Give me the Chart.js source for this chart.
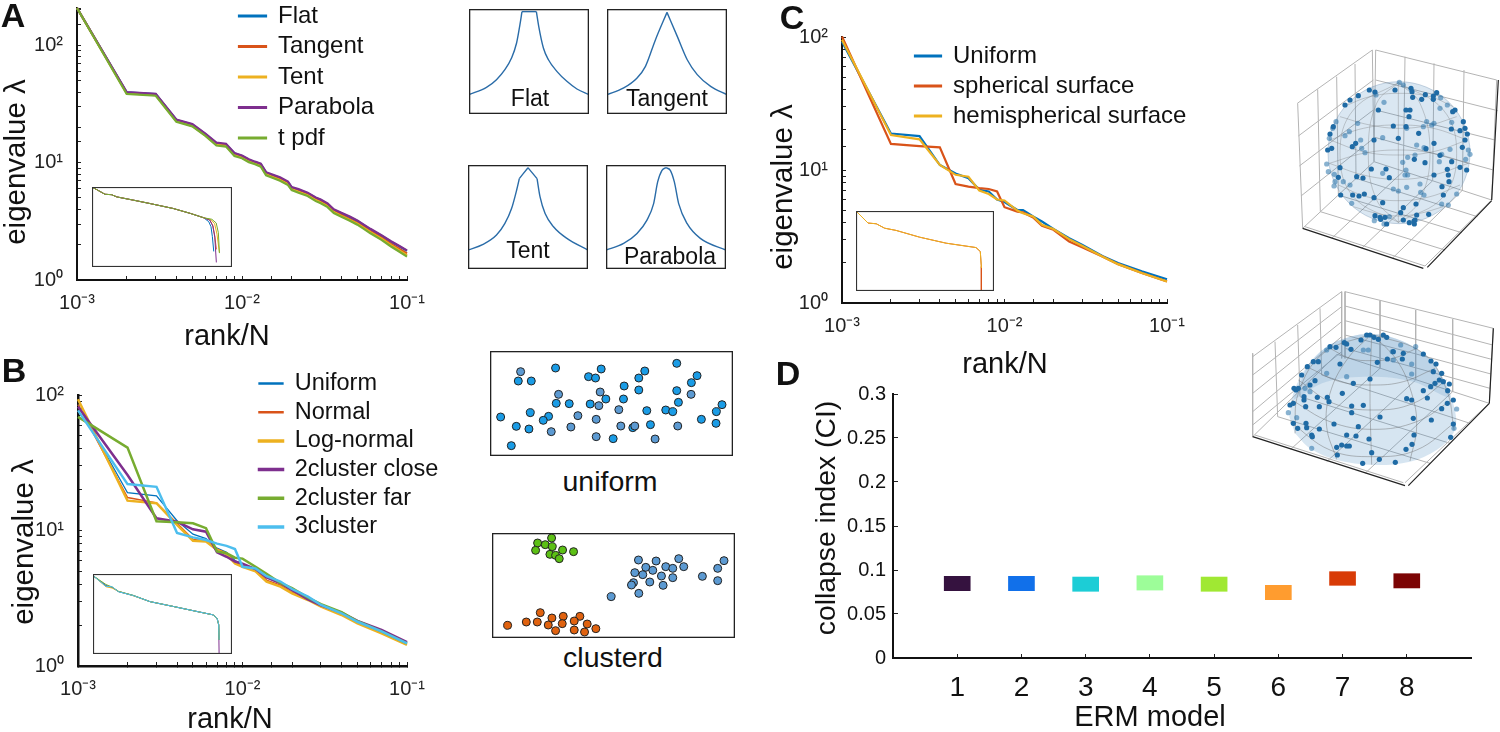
<!DOCTYPE html>
<html><head><meta charset="utf-8">
<style>
html,body{margin:0;padding:0;background:#fff;width:1500px;height:732px;overflow:hidden}
canvas{position:absolute}
.t{position:absolute;font-family:"Liberation Sans",Arial,sans-serif;color:#111;white-space:nowrap;transform:translate(-50%,-50%);line-height:1}
</style>
<script src="https://cdn.jsdelivr.net/npm/chart.js@4/dist/chart.umd.min.js"></script>
</head><body>
<script>
// ---------- Panel A ----------
const ranksA=[1,2,3,4,5,6,7,8,9,10,11,12,13,14,15,17,19,20,22,25,28,30,33,36,40,45,50,55,60,70,80,90,100];
const flatA=[208,39.8,38.4,23.1,21.1,17.5,14.6,14.3,12.0,11.4,10.6,10.1,9.7,8.2,7.9,7.4,6.8,6.15,5.88,5.48,5.0,4.8,4.44,3.95,3.7,3.42,3.18,2.92,2.7,2.38,2.12,1.93,1.77];
const tangentA=[208,39.4,38,22.8,20.8,17.2,14.3,14,11.7,11.15,10.35,9.95,9.5,8,7.7,7.22,6.65,6,5.72,5.35,4.85,4.65,4.32,3.85,3.58,3.3,3.06,2.82,2.6,2.29,2.03,1.84,1.68];
const tentA=[208,39.1,37.7,22.6,20.6,17.1,14.2,13.9,11.6,11,10.25,9.85,9.4,7.95,7.62,7.12,6.55,5.95,5.65,5.28,4.8,4.58,4.25,3.8,3.52,3.25,3.02,2.77,2.56,2.25,1.98,1.79,1.63];
const parabolaA=[208,40,38.6,23.3,21.3,17.7,14.8,14.5,12.1,11.5,10.7,10.2,9.8,8.3,8.0,7.5,6.9,6.2,5.95,5.55,5.05,4.85,4.5,4.0,3.75,3.47,3.22,2.95,2.73,2.41,2.14,1.95,1.79];
const tpdfA=[208,38.5,37.2,22.3,20.4,16.9,14.0,13.7,11.4,10.9,10.1,9.7,9.25,7.8,7.5,7.0,6.45,5.85,5.55,5.2,4.7,4.5,4.18,3.72,3.46,3.2,2.96,2.71,2.5,2.2,1.93,1.74,1.58];
// inset A: head shared, tails differ
const insetARanksHead=[1,2.1,3,4.1,10.7,27,100,265,565];
const insetAValsHead=[208,41,38,23,11,5.25,1.76,.59,.224];
const insetAFlatR=[755,855,925,1000], insetAFlatV=[.093,.031,.0034,1.26e-4];
const insetATangentR=[800,950,1060,1160], insetATangentV=[.14,.04,.004,2e-4];
const insetATentR=[850,1050,1200,1380], insetATentV=[.15,.06,.006,1e-4];
const insetAParabolaR=[800,950,1060,1160], insetAParabolaV=[.13,.035,.003,1.1e-5];
const insetATpdfR=[900,1150,1300,1380], insetATpdfV=[.16,.07,.008,8.7e-5];
// ---------- Panel B ----------
const ranksB=[1,2,3,4,5,6,7,8,9,10,12,14,17,20,25,30,40,50,70,100];
const uniformB=[85,19,18,11.8,9.4,8.7,7.4,6.9,6.0,5.6,5.2,4.5,4.05,3.6,3.12,2.8,2.45,2.12,1.82,1.5];
const normalB=[85,17.5,16,11.3,8.6,8.4,7.3,6.8,5.8,5.5,5.1,4.3,3.95,3.5,3.1,2.76,2.4,2.08,1.77,1.46];
const lognormalB=[93,16.6,15.9,11,8.4,8.3,7.2,6.7,5.7,5.4,5.0,4.2,3.85,3.44,3.07,2.74,2.38,2.06,1.74,1.43];
const closeB=[82,25.7,12.3,11.6,10.2,9.8,6.9,6.4,5.9,5.7,5.2,4.5,4.1,3.65,3.1,2.8,2.48,2.15,1.85,1.5];
const farB=[69,40.9,11.7,11.5,11.3,10.4,7,6.8,6.3,6.2,5.4,4.8,4.1,3.75,3.2,2.86,2.5,2.14,1.8,1.47];
const cluster3B=[77,22,21,9.6,8.9,8.5,8,7.7,7.3,5.4,5.25,4.6,4.2,3.7,3.25,2.82,2.45,2.12,1.8,1.47];
const insetBRanks=[1,2.1,3,4.3,10.1,26,100,450,960,1210,1330,1360];
const insetBUniform=[87,8.7,6.4,2.45,1.0,.26,.087,.025,.0135,.0065,.00145,5.1e-5];
const insetBFar=[87,12,6.8,2.6,1.05,.26,.087,.025,.0135,.0065,.00145,5.1e-5];
const insetBLog=[87,7.2,5.4,2.6,.95,.26,.087,.025,.0135,.0065,.00145,5.1e-5];
const insetBClose=[87,9.5,6.0,2.5,1.0,.26,.087,.025,.0135,.0065,.00145,2.1e-6];
const insetBCluster=[87,8,7.2,2.4,1.0,.26,.087,.025,.0135,.0065,.00145,5.1e-5];
// ---------- Panel C ----------
const ranksC=[1,2,3,4,5,6,7,8,9,10,12,13,15,17,20,25,30,40,50,70,100];
const uniformC=[92,18.8,18,10.9,9.4,8.66,7.1,6.9,6,5.75,5,5,4.47,4.1,3.6,3.07,2.74,2.26,2,1.73,1.51];
const sphericalC=[101,15.7,15.1,14.8,7.85,7.5,7.3,7.2,6.9,5.25,4.87,4.8,4.4,3.8,3.55,2.9,2.63,2.24,1.96,1.68,1.45];
const hemiC=[95.5,18.3,17,10.9,9.2,8.9,7,6.6,6,5.9,4.95,4.73,4.47,3.87,3.6,3.02,2.69,2.24,1.96,1.68,1.45];
const insetCRanks=[1,2,3.2,5.2,10,39,180,1000,1280,1360,1360];
const insetCVals=[100,6.9,5.9,2.2,1.35,.3,.079,.03,.0125,4.5e-4,3.5e-4];
const insetCRedR=[1,2,3.2,5.2,10,39,180,1000,1280,1360,1360];
const insetCRedV=[100,6.9,5.9,2.2,1.35,.3,.079,.03,.0125,4.5e-4,1.95e-6];
// ---------- Panel D ----------
const ermModels=[1,2,3,4,5,6,7,8];
const ciLow=[.0765,.0765,.0758,.0772,.0758,.0663,.0826,.0796];
const ciHigh=[.0928,.0928,.092,.0935,.092,.0826,.0981,.0958];
const ciColors=['#35123f','#1170ea','#1ccdd6','#9dfd99','#a0e833','#ff9c2f','#d83b07','#7c0404'];
const ciTicks=[0,.05,.1,.15,.2,.25,.3];
// ---------- Schematic profile curves (x in -1..1, y in 0..1); breaks mark sharp corners ----------
const flatX=[-1,-.709,-.542,-.402,-.291,-.207,-.151,-.117,.123,.162,.24,.324,.464,.631,.799,1];
const flatY=[.185,.254,.327,.422,.533,.676,.851,.975,.975,.835,.629,.517,.406,.311,.238,.185];
const flatBreaks=[7,8];
const tangentX=[-1,-.721,-.499,-.359,-.192,0,.173,.337,.504,.727,1];
const tangentY=[.184,.248,.343,.454,.708,.968,.737,.517,.375,.263,.184];
const tangentBreaks=[5];
const tentX=[-1,-.749,-.525,-.385,-.274,-.19,-.145,0,.151,.201,.285,.425,.648,1];
const tentY=[.182,.236,.326,.438,.581,.757,.869,.974,.869,.693,.533,.406,.294,.182];
const tentBreaks=[6,7,8];
const parabolaX=[-1,-.706,-.483,-.317,-.206,-.139,-.067,0,.072,.139,.211,.35,.572,1];
const parabolaY=[.182,.246,.342,.47,.629,.837,.949,.974,.949,.837,.629,.438,.294,.182];
const parabolaBreaks=[7];
// ---------- Scatter schematics (positions) ----------
const uniformBright=[[227,83],[364,86],[326,109],[347,113],[115,122],[154,122],[495,92],[477,113],[591,69],[652,106],[635,127],[433,137],[477,149],[591,151],[378,176],[431,176],[229,189],[268,190],[331,191],[596,186],[727,193],[501,211],[558,209],[579,214],[710,214],[151,217],[62,230],[206,228],[190,240],[665,237],[109,258],[147,266],[459,262],[512,253],[709,249],[400,295],[94,316]];
const uniformSteel=[[122,94],[236,162],[361,155],[357,196],[417,208],[294,226],[349,237],[214,274],[273,260],[423,257],[465,257],[594,257],[349,289],[526,296],[634,162]];
const clusterGreen=[[172,608],[214,593],[195,613],[216,619],[166,630],[247,629],[280,634],[209,642],[226,645],[237,655]];
const clusterBlue=[[475,659],[528,662],[596,655],[557,679],[578,684],[611,679],[497,681],[518,690],[732,661],[713,684],[464,697],[488,703],[544,707],[578,712],[667,708],[509,725],[460,727],[454,734],[549,735],[713,721],[476,759],[393,769]];
const clusterOrange=[[180,817],[215,833],[249,828],[299,828],[138,845],[171,845],[204,854],[246,850],[282,842],[321,851],[82,855],[347,865],[226,871],[282,869],[313,875]];
// ---------- 3D sphere (projected positions) ----------
const sphereNear=[[418,90],[435,96],[495,90],[543,85],[546,95],[586,104],[620,98],[610,108],[548,112],[575,118],[610,118],[360,120],[385,107],[345,135],[445,150],[528,150],[540,150],[537,170],[490,198],[528,200],[566,220],[505,235],[432,240],[664,207],[690,212],[705,205],[712,222],[705,240],[697,262],[377,250],[367,260],[612,250],[588,266],[630,286],[553,298],[585,308],[665,305],[690,322],[710,330],[652,328],[655,345],[657,365],[636,380],[640,405],[612,345],[424,327],[468,327],[478,353],[380,350],[399,354],[325,352],[330,323],[293,270],[305,265],[310,200],[300,222],[332,405],[368,405],[387,408],[403,402],[432,413],[458,428],[558,432],[520,443],[512,458],[560,465],[596,463],[435,467],[450,472],[452,478],[465,472],[470,492],[520,480],[538,488],[552,483],[553,492],[555,480],[675,150],[668,155],[700,185]];
const sphereFar=[[508,67],[520,75],[438,105],[462,127],[632,113],[652,135],[630,145],[590,185],[612,190],[605,195],[665,187],[580,200],[530,205],[383,190],[318,185],[308,205],[298,235],[345,227],[358,215],[392,240],[395,265],[405,278],[458,233],[560,255],[582,263],[660,268],[720,283],[715,270],[635,283],[555,285],[533,292],[518,307],[628,305],[707,298],[290,312],[295,335],[313,343],[315,365],[312,378],[340,365],[360,375],[458,340],[525,345],[533,345],[528,330],[570,372],[530,382],[490,387],[505,393],[572,397],[582,405],[680,402],[365,430],[655,435],[635,432],[478,470],[433,482],[462,492]];
const sphereCenter=[[507,278]];
const sphereGrid=[
 [[330,170],[420,195],[510,205],[600,195],[680,170]],[[300,240],[400,275],[505,285],[610,275],[712,240]],[[298,310],[400,345],[505,358],[610,345],[715,310]],[[325,375],[410,410],[505,422],[600,410],[690,375]],[[370,440],[440,460],[505,468],[570,460],[640,440]],
 [[340,140],[420,110],[510,100],[600,110],[670,140]],[[300,240],[400,205],[505,195],[610,205],[712,240]],[[298,310],[400,280],[505,270],[610,280],[715,310]],
 [[505,68],[440,130],[415,280],[440,420],[505,487]],[[505,68],[570,130],[600,280],[570,420],[505,487]],[[505,68],[370,150],[330,280],[370,410],[505,487]],[[505,68],[640,150],[680,280],[640,410],[505,487]],[[505,68],[505,280],[505,487]]];
const sphereCubeGray=[[202,130,427,-30],[205,228,430,60],[208,318,430,150],[213,408,431,235],[203,130,218,505],[263,88,271,455],[320,50,325,405],[375,12,378,355],[427,-30,432,305],[437,-30,800,60],[437,60,803,152],[437,150,795,240],[434,232,790,330],[437,-30,432,305],[525,-10,520,334],[612,10,608,362],[702,30,697,391],[800,60,785,420],[218,505,432,305],[432,305,785,420],[305,535,520,334],[395,565,608,362],[487,595,697,391],[645,570,271,455],[695,518,325,405],[742,470,378,355],[225,500,585,618],[585,618,780,425]];
const sphereCubeDark=[[218,505,580,625],[592,622,785,422],[805,60,785,420]];
// ---------- 3D hemisphere ----------
const hemiNear=[[370,970],[420,957],[337,1000],[262,1012],[292,1012],[297,1025],[222,1020],[227,1040],[268,1040],[365,1038],[400,1036],[365,1058],[530,1016],[545,1020],[592,1014],[580,992],[652,1030],[635,1046],[550,1075],[450,1071],[312,1092],[385,1100],[228,1090],[230,1103],[268,1107],[190,1090],[203,1105],[245,1125],[247,1130],[350,1125],[378,1128],[417,1137],[552,1125],[320,1162],[335,1155],[350,1158],[358,1158],[528,1168],[546,1153],[322,1185],[425,1178],[448,1198],[398,1210],[496,1207],[604,1080],[670,1092],[662,1132],[192,985],[198,990],[205,985],[215,945],[232,920],[250,905],[265,905],[330,912],[255,962],[240,975],[300,860],[318,862],[343,848],[363,868],[350,852],[393,840],[410,825],[420,825],[432,832],[445,838],[460,825],[470,832],[472,897],[442,907],[517,897],[520,880],[490,875],[580,882],[603,903],[618,912],[610,935],[635,940],[628,960],[615,970],[640,965],[658,972],[602,980],[653,992],[670,1020],[180,1035],[190,1030],[222,1010]];
const hemiFar=[[290,870],[400,870],[415,870],[487,875],[512,855],[557,860],[490,900],[545,912],[350,950],[290,940],[545,942],[225,985],[240,995],[175,1058],[200,1073],[680,1047],[672,1105],[245,1165]];
const hemiOutline=[[178,1070],[190,1000],[230,920],[290,860],[360,830],[420,822],[480,830],[550,860],[610,910],[655,990],[678,1070],[670,1120],[620,1170],[540,1205],[430,1215],[320,1200],[240,1165],[195,1120]];
const hemiInner=[[190,1020],[290,965],[420,950],[550,965],[660,1010],[610,910],[550,860],[480,830],[420,822],[360,830],[290,860],[230,920]];
const hemiGrid=[
 [[185,1020],[300,1085],[430,1108],[560,1085],[665,1020]],[[205,960],[310,1030],[430,1050],[550,1030],[650,960]],[[240,925],[330,965],[425,975],[520,965],[615,925]],[[300,865],[360,895],[425,902],[490,895],[560,865]],[[180,1085],[300,1170],[430,1190],[560,1170],[678,1085]],
 [[425,822],[350,900],[300,1000],[290,1100],[320,1198]],[[425,822],[500,900],[545,1000],[560,1100],[540,1203]],[[425,822],[280,880],[205,1000],[195,1120]],[[425,822],[580,880],[650,990],[672,1110]],[[425,822],[420,1000],[425,1214]]];
const hemiCubeGray=[[68,890,335,695],[68,945,335,740],[68,1000,335,785],[68,1055,335,830],[68,1095,335,875],[68,880,68,1130],[135,845,143,1070],[203,795,210,1010],[270,745,275,945],[335,695,335,895],[345,695,345,895],[345,695,790,805],[345,738,788,855],[345,782,785,898],[345,825,783,942],[345,865,780,985],[450,722,450,925],[557,750,557,960],[668,778,668,995],[790,805,778,1030],[68,1130,321,883],[321,883,778,1030],[182,1168,450,925],[290,1205,557,960],[405,1240,668,995],[600,1210,143,1070],[660,1150,210,1010],[720,1090,275,945],[75,1125,520,1268],[525,1268,775,1032]];
const hemiCubeDark=[[68,1130,525,1277],[535,1277,778,1030],[790,805,778,1030]];
// ---------- Text ----------
const yTitle='eigenvalue λ', xTitle='rank/N';
const legendA=['Flat','Tangent','Tent','Parabola','t pdf'];
const legendB=['Uniform','Normal','Log-normal','2cluster close','2cluster far','3cluster'];
const legendC=['Uniform','spherical surface','hemispherical surface'];
const decadeLabels={'-3':'10⁻³','-2':'10⁻²','-1':'10⁻¹','0':'10⁰','1':'10¹','2':'10²'};
const cBlue='#0072BD',cRed='#D95319',cYel='#EDB120',cPur='#7E2F8E',cGrn='#77AC30',cCya='#4DBEEE';
const FONT='"Liberation Sans", Arial, sans-serif';

Chart.defaults.font.family=FONT;
Chart.defaults.color='#111';
Chart.defaults.animation=false;
Chart.defaults.layout.autoPadding=false;

function addText(s,x,y,size,o={}){
 const d=document.createElement('div');d.className='t';d.textContent=s;
 d.style.left=x+'px';d.style.top=y+'px';d.style.fontSize=size+'px';
 if(o.bold)d.style.fontWeight='bold';
 d.style.transform='translate(-50%,-50%)'+(o.rotate?' rotate(-90deg)':'');
 document.body.appendChild(d);
}
function mkCanvas(x,y,w,h){const c=document.createElement('canvas');c.width=w;c.height=h;c.style.left=x+'px';c.style.top=y+'px';c.style.width=w+'px';c.style.height=h+'px';document.body.appendChild(c);return c;}
const framePlugin={id:'frame',afterDraw(ch,a,o){if(!o.color)return;const g=ch.ctx,r=ch.chartArea;g.save();g.strokeStyle=o.color;g.lineWidth=o.width||1;g.strokeRect(r.left+.5,r.top+.5,r.right-r.left-1,r.bottom-r.top-1);g.restore();}};
const legendPlace={id:'legendPlace',afterLayout(ch,a,o){if(o.x===undefined||!ch.legend)return;const l=ch.legend,w=l.width,h=l.height;l.left=o.x;l.right=o.x+w;l.top=o.y;l.bottom=o.y+h;}};
Chart.register(framePlugin,legendPlace);

const isDecade=v=>Math.abs(Math.log10(v)-Math.round(Math.log10(v)))<1e-6;
const decade=v=>isDecade(v)?(decadeLabels[String(Math.round(Math.log10(v)))]||''):'';
const noPad=s=>{s.paddingTop=s.paddingBottom=s.paddingLeft=s.paddingRight=0;};

function logPanel(a,series,lg){
 const L=70,T=30,R=a.r||30,B=46;
 const c=mkCanvas(a.l-L,a.t-T,L+a.w+R,T+a.h+B);
 const xs={type:'logarithmic',min:.001,max:.1,
   afterFit(s){s.height=B;noPad(s);},
   border:{color:'#111',width:a.bw},grid:{drawOnChartArea:false,tickLength:-4,tickColor:'#222',tickWidth:1},
   ticks:{autoSkip:false,maxRotation:0,minRotation:0,font:{size:20},padding:15,color:'#222',callback:decade}};
 const ys={type:'logarithmic',min:1,max:a.ymax,
   afterFit(s){s.width=L;noPad(s);},
   border:{color:'#111',width:a.bw},grid:{drawOnChartArea:false,tickLength:-4,tickColor:'#222',tickWidth:1},
   ticks:{autoSkip:false,font:{size:20},padding:18,color:'#222',callback:decade}};
 new Chart(c,{type:'scatter',
  data:{datasets:series.map((s,i)=>({label:s.label,showLine:true,tension:0,clip:false,
     data:s.r.map((r,j)=>({x:r/1000,y:s.v[j]})),borderColor:s.c,backgroundColor:s.c,borderWidth:s.w,pointRadius:0,order:-i}))},
  options:{responsive:false,devicePixelRatio:1,layout:{padding:{top:T,right:R,left:0,bottom:0}},
   scales:{x:xs,y:ys},
   plugins:{tooltip:{enabled:false},
    legendPlace:{x:lg.x-lg.pad-(a.l-L),y:lg.row-lg.pad-lg.size/2-(a.t-T)},
    legend:{display:true,position:'chartArea',align:'start',
     labels:{boxWidth:lg.box,boxHeight:1,padding:lg.pad,font:{size:lg.size},color:'#111',sort:(p,q)=>p.datasetIndex-q.datasetIndex}}}}});
}
function insetPanel(b,xmax,ymax,ymin,series){
 const c=mkCanvas(b.l,b.t,b.w,b.h);
 new Chart(c,{type:'scatter',
  data:{datasets:series.map((s,i)=>({showLine:true,tension:0,data:s.r.map((r,j)=>({x:r,y:s.v[j]})),borderColor:s.c,borderWidth:1,pointRadius:0,order:-i}))},
  options:{responsive:false,devicePixelRatio:1,
   scales:{x:{type:'logarithmic',min:1,max:xmax,display:false},y:{type:'logarithmic',min:ymin,max:ymax,display:false}},
   plugins:{legend:{display:false},tooltip:{enabled:false},frame:{color:'#333',width:1.2}}}});
}
function profile(b,xs,ys,breaks){
 const c=mkCanvas(b.l,b.t,b.w,b.h);
 const cuts=[0,...breaks,xs.length-1];
 const ds=cuts.slice(0,-1).map((st,k)=>{const idx=[];for(let i=st;i<=cuts[k+1];i++)idx.push(i);
   return {showLine:true,cubicInterpolationMode:'monotone',data:idx.map(i=>({x:xs[i],y:ys[i]})),borderColor:'#2a6ca8',borderWidth:1.4,pointRadius:0};});
 new Chart(c,{type:'scatter',data:{datasets:ds},
  options:{responsive:false,devicePixelRatio:1,
   scales:{x:{type:'linear',min:-1,max:1,display:false},y:{type:'linear',min:0,max:1,display:false}},
   plugins:{legend:{display:false},tooltip:{enabled:false},frame:{color:'#222',width:1.6}}}});
}
const pts=a=>a.map(p=>({x:p[0],y:p[1]}));
function dots(b,xr,yr,groups){
 const c=mkCanvas(b.l,b.t,b.w,b.h);
 new Chart(c,{type:'scatter',
  data:{datasets:groups.map(g=>({data:pts(g.p),backgroundColor:g.c,borderColor:'#222',borderWidth:1,pointRadius:4}))},
  options:{responsive:false,devicePixelRatio:1,
   scales:{x:{type:'linear',min:xr[0],max:xr[1],display:false},y:{type:'linear',min:yr[0],max:yr[1],reverse:true,display:false}},
   plugins:{legend:{display:false},tooltip:{enabled:false},frame:{color:'#222',width:1.6}}}});
}
const segs=a=>a.flatMap(s=>[{x:s[0],y:s[1]},{x:s[2],y:s[3]},{x:NaN,y:NaN}]);
const polys=a=>a.flatMap(p=>[...pts(p),{x:NaN,y:NaN}]);

// ---- A ----
logPanel({l:77,t:8,w:330,h:272,ymax:208,bw:2},[
 {label:legendA[0],r:ranksA,v:flatA,c:cBlue,w:2.2},{label:legendA[1],r:ranksA,v:tangentA,c:cRed,w:2.2},{label:legendA[2],r:ranksA,v:tentA,c:cYel,w:2.2},{label:legendA[3],r:ranksA,v:parabolaA,c:cPur,w:2.2},{label:legendA[4],r:ranksA,v:tpdfA,c:cGrn,w:2.2}
],{x:239,row:16,size:24,pad:6.5,box:27});
insetPanel({l:92,t:187,w:140,h:80},2818,208,3.98e-6,[
 {r:[...insetARanksHead,...insetAFlatR],v:[...insetAValsHead,...insetAFlatV],c:cBlue},
 {r:[...insetARanksHead,...insetATangentR],v:[...insetAValsHead,...insetATangentV],c:cRed},
 {r:[...insetARanksHead,...insetATentR],v:[...insetAValsHead,...insetATentV],c:cYel},
 {r:[...insetARanksHead,...insetAParabolaR],v:[...insetAValsHead,...insetAParabolaV],c:cPur},
 {r:[...insetARanksHead,...insetATpdfR],v:[...insetAValsHead,...insetATpdfV],c:cGrn}]);
addText(yTitle,15,162,29.5,{rotate:true});
addText(xTitle,227,335,29);
addText('A',13,15,34,{bold:true});
// ---- B ----
logPanel({l:78,t:395,w:329,h:271,ymax:100,bw:2.5,r:60},[
 {label:legendB[0],r:ranksB,v:uniformB,c:cBlue,w:1.3},{label:legendB[1],r:ranksB,v:normalB,c:cRed,w:1.5},{label:legendB[2],r:ranksB,v:lognormalB,c:cYel,w:2.5},{label:legendB[3],r:ranksB,v:closeB,c:cPur,w:2.5},{label:legendB[4],r:ranksB,v:farB,c:cGrn,w:2.5},{label:legendB[5],r:ranksB,v:cluster3B,c:cCya,w:2.5}
],{x:259,row:383.5,size:23.5,pad:5.2,box:24});
insetPanel({l:93,t:574,w:139,h:80},2845,126,2.1e-6,[
 {r:insetBRanks,v:insetBClose,c:cPur},{r:insetBRanks,v:insetBUniform,c:cBlue},{r:insetBRanks,v:insetBLog,c:cYel},{r:insetBRanks,v:insetBFar,c:cGrn},{r:insetBRanks,v:insetBCluster,c:cCya}]);
addText(yTitle,23,542,29.5,{rotate:true});
addText(xTitle,230,718,29);
addText('B',14,370,34,{bold:true});
// ---- C ----
logPanel({l:842,t:37,w:325,h:266,ymax:100,bw:2,r:60},[
 {label:legendC[0],r:ranksC,v:uniformC,c:cBlue,w:2.2},{label:legendC[1],r:ranksC,v:sphericalC,c:cRed,w:2.2},{label:legendC[2],r:ranksC,v:hemiC,c:cYel,w:2.2}
],{x:915,row:56,size:24,pad:6,box:26});
insetPanel({l:856,t:211,w:138,h:80},2818,100,1.95e-6,[{r:insetCRedR,v:insetCRedV,c:cRed},{r:insetCRanks,v:insetCVals,c:cYel}]);
addText(yTitle,782,187,29.5,{rotate:true});
addText(xTitle,1005,363,29);
addText('C',792,17,34,{bold:true});
// ---- D ----
(function(){
 const l=893,t=394,w=578,h=264,Lm=70,Tm=14,Rm=6,Bm=50;
 const c=mkCanvas(l-Lm,t-Tm,Lm+w+Rm,Tm+h+Bm);
 new Chart(c,{type:'bar',
  data:{datasets:[{data:ermModels.map((m,i)=>({x:m,y:[ciLow[i],ciHigh[i]]})),backgroundColor:ciColors,barThickness:26,borderSkipped:false}]},
  options:{responsive:false,devicePixelRatio:1,layout:{padding:{top:Tm,right:Rm,left:0,bottom:0}},
   scales:{
    x:{type:'linear',min:0,max:9,offset:false,afterFit(s){s.height=Bm;noPad(s);},
      afterBuildTicks(s){s.ticks=ermModels.map(v=>({value:v}));},
      border:{color:'#111',width:2},grid:{offset:false,drawOnChartArea:false,tickLength:-4,tickColor:'#222'},
      ticks:{font:{size:28},padding:17,color:'#111',autoSkip:false,maxRotation:0,callback:v=>String(v)}},
    y:{type:'linear',min:0,max:.3,afterFit(s){s.width=Lm;noPad(s);},
      afterBuildTicks(s){s.ticks=ciTicks.map(v=>({value:v}));},
      border:{color:'#111',width:2},grid:{drawOnChartArea:false,tickLength:-5,tickColor:'#222'},
      ticks:{font:{size:20},padding:12,color:'#111',autoSkip:false,callback:v=>String(v)}}},
   plugins:{legend:{display:false},tooltip:{enabled:false}}}});
})();
addText('collapse index (CI)',825,518,28.3,{rotate:true});
addText('ERM model',1150,716,29);
addText('D',788,373,34,{bold:true});
// ---- profile boxes ----
profile({l:469,t:9,w:120,h:105},flatX,flatY,flatBreaks);
profile({l:607,t:9,w:120,h:105},tangentX,tangentY,tangentBreaks);
profile({l:468,t:165,w:120,h:104},tentX,tentY,tentBreaks);
profile({l:606,t:165,w:120,h:104},parabolaX,parabolaY,parabolaBreaks);
addText('Flat',530,98,23);addText('Tangent',667,98,23);addText('Tent',528,250,23);addText('Parabola',670,256,23);
// ---- scatter boxes ----
dots({l:490,t:351,w:243,h:105},[30,760],[32,347],[{p:uniformSteel,c:'#5c9ad2'},{p:uniformBright,c:'#1a9ce6'}]);
dots({l:492,t:533,w:243,h:105},[35,765],[578,893],[{p:clusterGreen,c:'#5cc015'},{p:clusterBlue,c:'#5c9ad2'},{p:clusterOrange,c:'#e0620f'}]);
addText('uniform',610,481,28.5);addText('clusterd',613,657,28.5);
// ---- 3D panels ----
(function(){
 const c=mkCanvas(1230,40,270,460);
 const lineSet=(data,col,w,t)=>({data,showLine:true,tension:t||0,borderColor:col,borderWidth:w,pointRadius:0,spanGaps:false});
 const dot=(p,col)=>({data:pts(p),backgroundColor:col,borderWidth:0,pointRadius:2.6});
 const ds=[
  dot(sphereNear,'#1f6ba5'),dot(hemiNear,'#1f6ba5'),dot(sphereFar,'rgba(40,115,170,.55)'),dot(hemiFar,'rgba(40,115,170,.55)'),
  lineSet(polys(sphereGrid),'rgba(110,110,110,.32)',1,.4),lineSet(polys(hemiGrid),'rgba(110,110,110,.45)',1,.4),
  {data:pts(hemiInner),showLine:true,tension:.35,fill:'shape',backgroundColor:'rgba(60,125,180,.16)',borderWidth:0,pointRadius:0},
  {data:pts(hemiOutline),showLine:true,tension:.35,fill:'shape',backgroundColor:'rgba(70,135,190,.22)',borderWidth:0,pointRadius:0},
  {data:pts(sphereCenter),backgroundColor:'rgba(70,135,190,.2)',borderColor:'rgba(120,150,180,.4)',borderWidth:1,pointRadius:71},
  lineSet(segs(sphereCubeDark),'#222',1.2),lineSet(segs(hemiCubeDark),'#222',1.2),
  lineSet(segs(sphereCubeGray),'#b4b4b4',1),lineSet(segs(hemiCubeGray),'#b4b4b4',1)];
 new Chart(c,{type:'scatter',data:{datasets:ds},
  options:{responsive:false,devicePixelRatio:1,
   scales:{x:{type:'linear',min:0,max:810,display:false},y:{type:'linear',min:-60,max:1320,reverse:true,display:false}},
   plugins:{legend:{display:false},tooltip:{enabled:false}}}});
})();
</script>
</body></html>
